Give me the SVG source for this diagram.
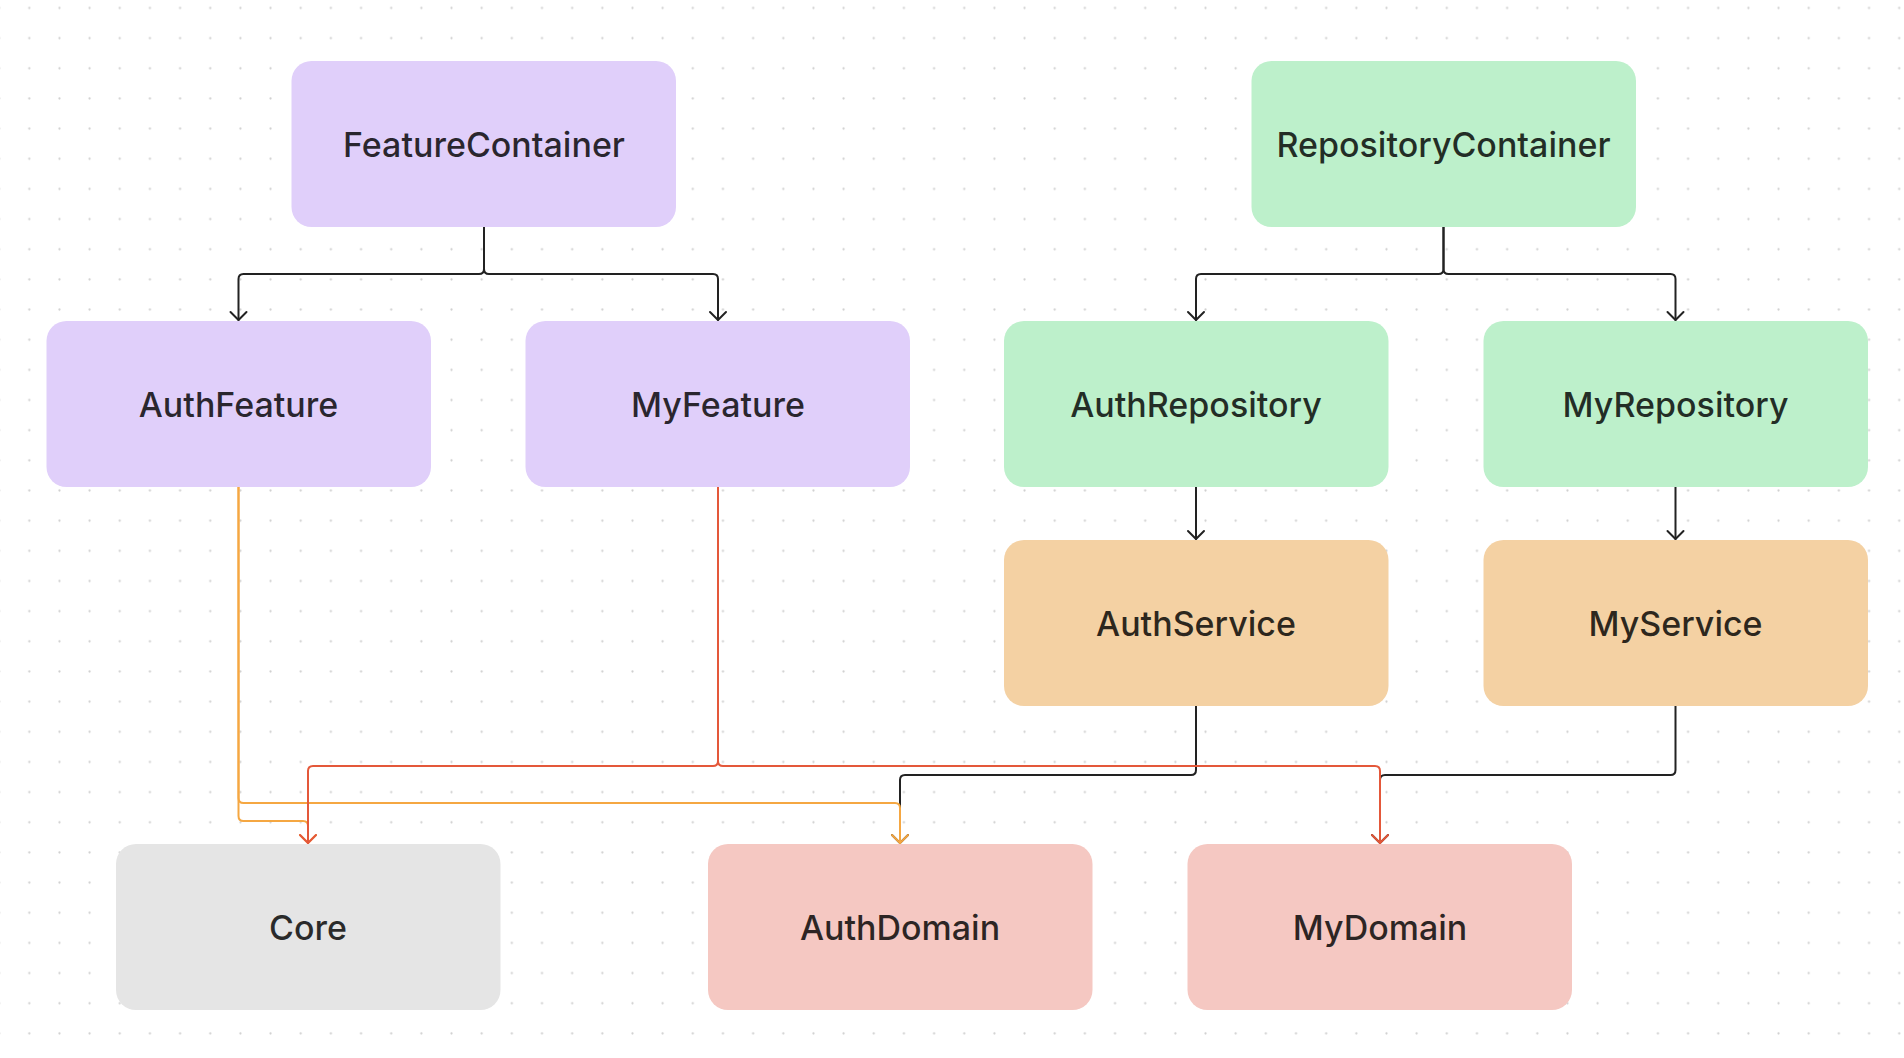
<svg xmlns="http://www.w3.org/2000/svg" width="1904" height="1058" viewBox="0 0 1904 1058">
<style>
  .node rect { stroke: none; }
  .node text { font-family: Inter, "Noto Sans", "Liberation Sans", sans-serif; font-size: 34px; font-weight: 500; fill: #000; fill-opacity: 0.82; text-anchor: middle; }
  .purple rect { fill: #e0cffa; }
  .green rect { fill: #bdf0cb; }
  .orange rect { fill: #f4d1a3; }
  .gray rect { fill: #e5e5e5; }
  .pink rect { fill: #f5c8c2; }
  .conn path { fill: none; stroke-width: 2; stroke-linejoin: round; stroke-linecap: round; }
  .blk { stroke: #222222; }
  .org { stroke: #f5a742; }
  .red { stroke: #e4583a; }
</style>
<defs>
  <pattern id="dots" x="14.2" y="-7.1" width="30.16" height="30.16" patternUnits="userSpaceOnUse">
    <circle cx="15.08" cy="15.08" r="1.1" fill="#cfcfcf"/>
  </pattern>
  <marker id="aBlk" viewBox="0 0 20 20" refX="10" refY="10" markerWidth="20" markerHeight="20" markerUnits="userSpaceOnUse" orient="auto">
    <path d="M2 2 L10 10 L2 18" fill="none" stroke="#222222" stroke-width="2" stroke-linecap="round" stroke-linejoin="round"/>
  </marker>
  <marker id="aOrg" viewBox="0 0 20 20" refX="10" refY="10" markerWidth="20" markerHeight="20" markerUnits="userSpaceOnUse" orient="auto">
    <path d="M2 2 L10 10 L2 18" fill="none" stroke="#f5a742" stroke-width="2" stroke-linecap="round" stroke-linejoin="round"/>
  </marker>
  <marker id="aRed" viewBox="0 0 20 20" refX="10" refY="10" markerWidth="20" markerHeight="20" markerUnits="userSpaceOnUse" orient="auto">
    <path d="M2 2 L10 10 L2 18" fill="none" stroke="#e4583a" stroke-width="2" stroke-linecap="round" stroke-linejoin="round"/>
  </marker>
</defs>
<rect x="0" y="0" width="1904" height="1058" fill="#ffffff"/>
<rect x="0" y="0" width="1904" height="1058" fill="url(#dots)"/>

<g id="connectors" class="conn">
  <path class="blk" d="M484 227 V269 Q484 274 479 274 H243.5 Q238.5 274 238.5 279 V320" marker-end="url(#aBlk)"/>
  <path class="blk" d="M484 227 V269 Q484 274 489 274 H713 Q718 274 718 279 V320" marker-end="url(#aBlk)"/>
  <path class="blk" d="M1443.5 227 V269 Q1443.5 274 1438.5 274 H1201 Q1196 274 1196 279 V320" marker-end="url(#aBlk)"/>
  <path class="blk" d="M1443.5 227 V269 Q1443.5 274 1448.5 274 H1670.5 Q1675.5 274 1675.5 279 V320" marker-end="url(#aBlk)"/>
  <path class="blk" d="M1196 487 V539" marker-end="url(#aBlk)"/>
  <path class="blk" d="M1675.5 487 V539" marker-end="url(#aBlk)"/>
  <path class="blk" d="M1196 706 V770 Q1196 775 1191 775 H905 Q900 775 900 780 V843" marker-end="url(#aBlk)"/>
  <path class="blk" d="M1675.5 706 V770 Q1675.5 775 1670.5 775 H1385 Q1380 775 1380 780 V843" marker-end="url(#aBlk)"/>
  <path class="org" d="M238.5 487 V798 Q238.5 803 243.5 803 H895 Q900 803 900 808 V843" marker-end="url(#aOrg)"/>
  <path class="org" d="M238.5 487 V816 Q238.5 821 243.5 821 H303 Q308 821 308 826 V843" marker-end="url(#aOrg)"/>
  <path class="red" d="M718 487 V761 Q718 766 713 766 H313 Q308 766 308 771 V843" marker-end="url(#aRed)"/>
  <path class="red" d="M718 487 V761 Q718 766 723 766 H1375 Q1380 766 1380 771 V843" marker-end="url(#aRed)"/>
</g>

<g id="FeatureContainer" class="node purple"><rect x="291.5" y="61" width="384.5" height="166" rx="20"/><text x="484" y="157">FeatureContainer</text></g>
<g id="RepositoryContainer" class="node green"><rect x="1251.5" y="61" width="384.5" height="166" rx="20"/><text x="1443.5" y="157">RepositoryContainer</text></g>
<g id="AuthFeature" class="node purple"><rect x="46.5" y="321" width="384.5" height="166" rx="20"/><text x="238.5" y="417">AuthFeature</text></g>
<g id="MyFeature" class="node purple"><rect x="525.5" y="321" width="384.5" height="166" rx="20"/><text x="718" y="417">MyFeature</text></g>
<g id="AuthRepository" class="node green"><rect x="1004" y="321" width="384.5" height="166" rx="20"/><text x="1196" y="417">AuthRepository</text></g>
<g id="MyRepository" class="node green"><rect x="1483.5" y="321" width="384.5" height="166" rx="20"/><text x="1675.5" y="417">MyRepository</text></g>
<g id="AuthService" class="node orange"><rect x="1004" y="540" width="384.5" height="166" rx="20"/><text x="1196" y="636">AuthService</text></g>
<g id="MyService" class="node orange"><rect x="1483.5" y="540" width="384.5" height="166" rx="20"/><text x="1675.5" y="636">MyService</text></g>
<g id="Core" class="node gray"><rect x="116" y="844" width="384.5" height="166" rx="20"/><text x="308" y="940">Core</text></g>
<g id="AuthDomain" class="node pink"><rect x="708" y="844" width="384.5" height="166" rx="20"/><text x="900" y="940">AuthDomain</text></g>
<g id="MyDomain" class="node pink"><rect x="1187.5" y="844" width="384.5" height="166" rx="20"/><text x="1380" y="940">MyDomain</text></g>
</svg>
